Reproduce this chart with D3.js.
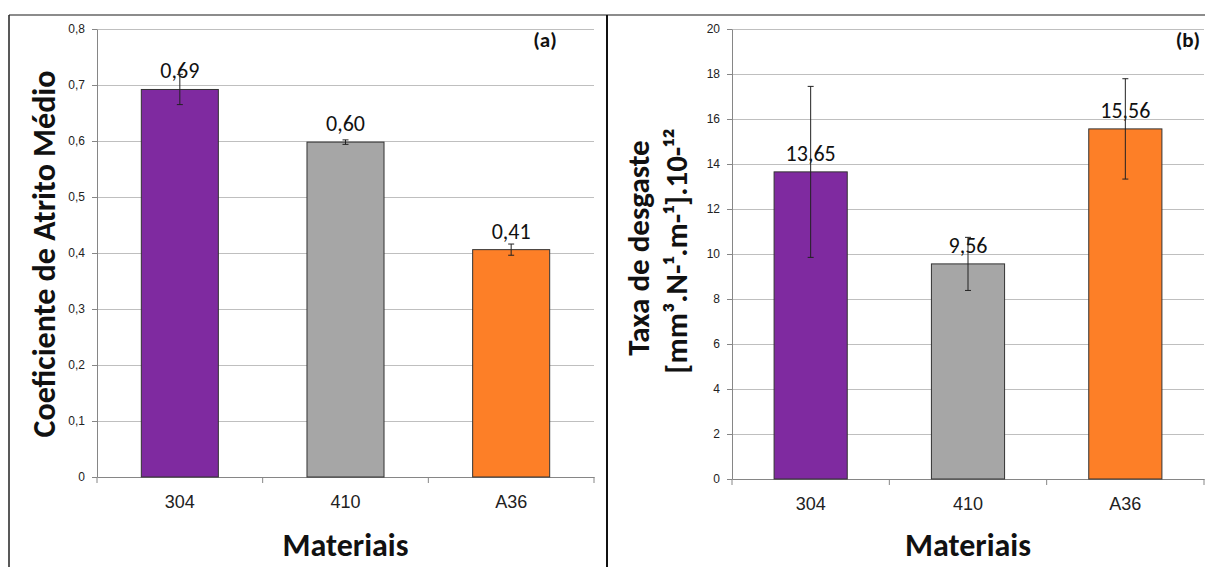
<!DOCTYPE html>
<meta charset="utf-8">
<style>
body { margin: 0; background: #fff; }
svg { font-family: Carlito, Lato, "Open Sans", sans-serif; }
.grid line { stroke: #bfbfbf; stroke-width: 1; }
.axis path, .axis line { stroke: #868686; }
.axis text { fill: #222; font-size: 12px; }
.axis--x text { font-size: 18px; }
.bar { stroke: #333; stroke-width: 1; }
.err { stroke: #222; stroke-width: 1; }
.valor { font-size: 22px; fill: #111; text-anchor: middle; }
.titulo { font-size: 32px; font-weight: bold; fill: #111; text-anchor: middle; }
.painel { font-size: 21px; font-weight: bold; fill: #111; text-anchor: middle; }
</style>
<body>
<svg width="1205" height="567"></svg>
<script src="https://d3js.org/d3.v7.min.js"></script>
<script>

var materiais = ["304", "410", "A36"];
var cores = ["#7f2aa0", "#a6a6a6", "#fd7f27"];

var atrito = [0.692, 0.598, 0.406];
var atritoErro = [0.027, 0.004, 0.010];
var atritoTicks = [0, 0.1, 0.2, 0.3, 0.4, 0.5, 0.6, 0.7, 0.8];

var desgaste = [13.65, 9.56, 15.56];
var desgasteErro = [3.80, 1.18, 2.23];
var desgasteTicks = [0, 2, 4, 6, 8, 10, 12, 14, 16, 18, 20];

var pt = d3.formatLocale({decimal: ",", thousands: ".", grouping: [3], currency: ["", ""]});
var fmt2 = pt.format(".2f");

var svg = d3.select("svg");

// moldura
svg.append("line").attr("x1", 9).attr("x2", 1205).attr("y1", 15).attr("y2", 15)
    .attr("stroke", "#666").attr("stroke-width", 1.5);
svg.append("line").attr("x1", 9).attr("x2", 9).attr("y1", 15).attr("y2", 567)
    .attr("stroke", "#222").attr("stroke-width", 1.5);
svg.append("line").attr("x1", 607).attr("x2", 607).attr("y1", 15).attr("y2", 567)
    .attr("stroke", "#111").attr("stroke-width", 2);

function painel(cfg) {
  var x = d3.scaleBand().domain(materiais).range(cfg.xr).padding(0);
  var y = d3.scaleLinear().domain([0, d3.max(cfg.ticks)]).range(cfg.yr);
  var g = svg.append("g");

  g.append("g").attr("class", "grid")
    .selectAll("line").data(cfg.ticks.slice(1)).enter().append("line")
      .attr("x1", cfg.xr[0]).attr("x2", cfg.xr[1])
      .attr("y1", function(d) { return Math.round(y(d)) + 0.5; })
      .attr("y2", function(d) { return Math.round(y(d)) + 0.5; });

  g.append("g").attr("class", "axis axis--y")
      .attr("transform", "translate(" + cfg.xr[0] + ",0)")
      .call(d3.axisLeft(y).tickValues(cfg.ticks).tickSizeInner(5).tickSizeOuter(0)
        .tickPadding(7)
        .tickFormat(function(d) { return d === 0 ? "0" : cfg.tickFmt(d); }));

  var xAxis = g.append("g").attr("class", "axis axis--x")
      .attr("transform", "translate(0," + cfg.yr[0] + ")")
      .call(d3.axisBottom(x).tickSize(0).tickPadding(20));
  xAxis.selectAll(".tick text").attr("dy", "0.6em");

  // marcas entre categorias
  var limites = materiais.map(function(d) { return x(d); }).concat([x(materiais[2]) + x.bandwidth()]);
  xAxis.selectAll(".lim").data(limites).enter().append("line")
      .attr("class", "lim")
      .attr("x1", function(d) { return d; }).attr("x2", function(d) { return d; })
      .attr("y1", 0).attr("y2", 6).attr("stroke", "#868686");

  var bw = x.bandwidth() * 0.465;
  var cx = function(i) { return x(materiais[i]) + x.bandwidth() / 2; };

  g.selectAll(".bar").data(cfg.valores).enter().append("rect")
      .attr("class", "bar")
      .attr("x", function(d, i) { return cx(i) - bw / 2; })
      .attr("width", bw)
      .attr("y", function(d) { return y(d); })
      .attr("height", function(d) { return y(0) - y(d); })
      .style("fill", function(d, i) { return cores[i]; });

  g.selectAll(".valor").data(cfg.valores).enter().append("text")
      .attr("class", "valor")
      .attr("x", function(d, i) { return cx(i); })
      .attr("y", function(d) { return y(d) - 11; })
      .text(function(d) { return fmt2(d); });

  var eg = g.selectAll(".errg").data(cfg.valores).enter().append("g");
  eg.append("line").attr("class", "err")
      .attr("x1", function(d, i) { return cx(i); }).attr("x2", function(d, i) { return cx(i); })
      .attr("y1", function(d, i) { return y(d + cfg.erros[i]); })
      .attr("y2", function(d, i) { return y(d - cfg.erros[i]); });
  [1, -1].forEach(function(s) {
    eg.append("line").attr("class", "err")
        .attr("x1", function(d, i) { return cx(i) - 3; }).attr("x2", function(d, i) { return cx(i) + 3; })
        .attr("y1", function(d, i) { return y(d + s * cfg.erros[i]); })
        .attr("y2", function(d, i) { return y(d + s * cfg.erros[i]); });
  });

  g.append("text").attr("class", "painel")
      .attr("x", cfg.rotulo[1]).attr("y", 47).text(cfg.rotulo[0]);

  g.append("text").attr("class", "titulo")
      .attr("x", (cfg.xr[0] + cfg.xr[1]) / 2).attr("y", 556).text("Materiais");

  return g;
}

var gA = painel({
  xr: [97, 594], yr: [477, 29], ticks: atritoTicks, valores: atrito, erros: atritoErro,
  tickFmt: pt.format(".1f"), rotulo: ["(a)", 545]
});
gA.append("text").attr("class", "titulo")
    .attr("transform", "translate(55,254) rotate(-90)")
    .text("Coeficiente de Atrito Médio");

var gB = painel({
  xr: [732, 1204], yr: [479, 29], ticks: desgasteTicks, valores: desgaste, erros: desgasteErro,
  tickFmt: pt.format("d"), rotulo: ["(b)", 1188]
});
gB.append("text").attr("class", "titulo")
    .style("font-size", "31px")
    .attr("transform", "translate(649,248) rotate(-90)")
    .text("Taxa de desgaste");
gB.append("text").attr("class", "titulo")
    .style("font-size", "31px")
    .attr("transform", "translate(687,251) rotate(-90)")
    .text("[mm³.N-¹.m-¹].10-¹²");

</script>
</body>
